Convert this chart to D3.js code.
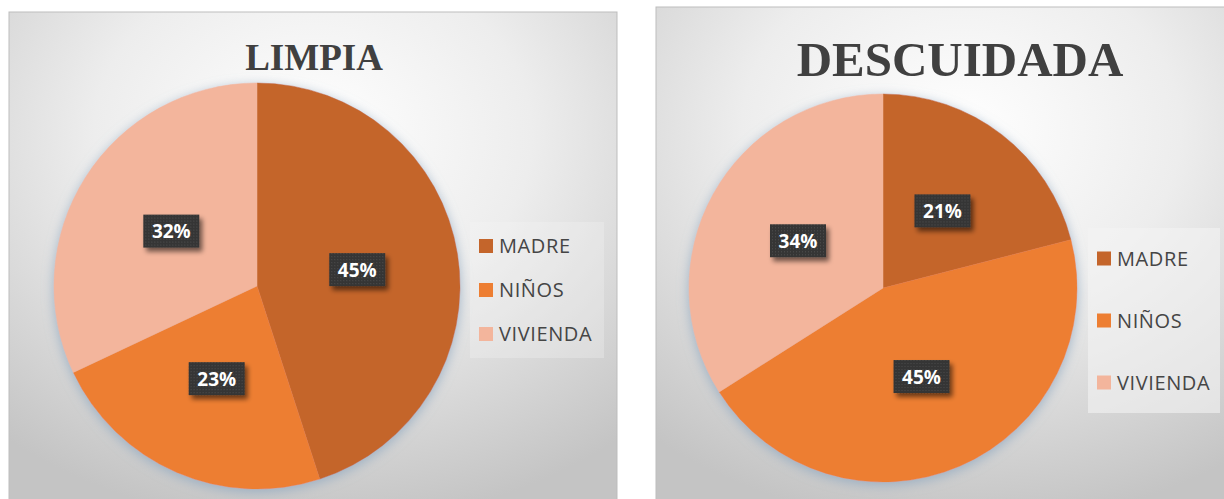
<!DOCTYPE html>
<html>
<head>
<meta charset="utf-8">
<script src="https://cdn.jsdelivr.net/npm/d3@7"></script>
<style>
  body { margin: 0; background: #fff; }
  svg { display: block; }
</style>
</head>
<body>
<svg id="chart" width="1224" height="499"></svg>
<script>
// data
var categories = ['MADRE', 'NIÑOS', 'VIVIENDA'];
var limpiaValues = [45, 23, 32];
var descuidadaValues = [21, 45, 34];
var titles = ['LIMPIA', 'DESCUIDADA'];
var sliceColors = ['#C4652B', '#ED7E32', '#F3B59C'];

var svg = d3.select('#chart');
var defs = svg.append('defs');

// panel background gradient
var grad = defs.append('radialGradient')
    .attr('id', 'bg')
    .attr('cx', '50%').attr('cy', '25%').attr('r', '80%');
grad.append('stop').attr('offset', '0%').attr('stop-color', '#ffffff');
grad.append('stop').attr('offset', '45%').attr('stop-color', '#ededed');
grad.append('stop').attr('offset', '100%').attr('stop-color', '#c4c4c4');

// soft shadow under the pie
var pieShadow = defs.append('filter').attr('id', 'pieShadow')
    .attr('x', '-20%').attr('y', '-20%').attr('width', '140%').attr('height', '140%');
pieShadow.append('feGaussianBlur').attr('in', 'SourceAlpha').attr('stdDeviation', 6).attr('result', 'b');
pieShadow.append('feOffset').attr('in', 'b').attr('dx', 0).attr('dy', 3).attr('result', 'o');
pieShadow.append('feFlood').attr('flood-color', '#8fa8c0').attr('flood-opacity', 0.8);
pieShadow.append('feComposite').attr('in2', 'o').attr('operator', 'in').attr('result', 's');
var m1 = pieShadow.append('feMerge');
m1.append('feMergeNode').attr('in', 's');
m1.append('feMergeNode').attr('in', 'SourceGraphic');

// shadow for the label boxes
var boxShadow = defs.append('filter').attr('id', 'boxShadow')
    .attr('x', '-30%').attr('y', '-30%').attr('width', '170%').attr('height', '180%');
boxShadow.append('feGaussianBlur').attr('in', 'SourceAlpha').attr('stdDeviation', 2.5).attr('result', 'b');
boxShadow.append('feOffset').attr('in', 'b').attr('dx', 3).attr('dy', 4).attr('result', 'o');
boxShadow.append('feComponentTransfer').attr('in', 'o').attr('result', 's')
    .append('feFuncA').attr('type', 'linear').attr('slope', 0.55);
var m2 = boxShadow.append('feMerge');
m2.append('feMergeNode').attr('in', 's');
m2.append('feMergeNode').attr('in', 'SourceGraphic');

// dotted dark texture of the labels
var pat = defs.append('pattern').attr('id', 'tex')
    .attr('width', 3).attr('height', 3).attr('patternUnits', 'userSpaceOnUse');
pat.append('rect').attr('width', 3).attr('height', 3).attr('fill', '#363636');
pat.append('rect').attr('x', 1).attr('y', 1).attr('width', 1).attr('height', 1).attr('fill', '#4c4c4c');

var panels = [
    { title: titles[0], values: limpiaValues, x: 9, y: 12, w: 608, h: 490,
      cx: 257, cy: 286, r: 203, titleX: 314, titleY: 70, titleSize: 37,
      legend: { x: 470, y: 222, w: 134, h: 136, step: 44, opacity: 0.3 } },
    { title: titles[1], values: descuidadaValues, x: 656, y: 7, w: 610, h: 495,
      cx: 883, cy: 288, r: 194, titleX: 960, titleY: 76, titleSize: 49,
      legend: { x: 1088, y: 228, w: 132, h: 185, step: 62, opacity: 0.6 } }
];

var pie = d3.pie().sort(null).value(function (d) { return d; });

panels.forEach(function (p) {
    var g = svg.append('g');

    g.append('rect')
        .attr('x', p.x).attr('y', p.y)
        .attr('width', p.w).attr('height', p.h)
        .attr('fill', 'url(#bg)')
        .attr('stroke', '#bdbdbd')
        .attr('stroke-width', 1);

    g.append('text')
        .attr('x', p.titleX)
        .attr('y', p.titleY)
        .attr('text-anchor', 'middle')
        .style('font-family', '"Liberation Serif", "Times New Roman", serif')
        .style('font-weight', 'bold')
        .style('font-size', p.titleSize + 'px')
        .style('fill', '#404040')
        .text(p.title);

    var arc = d3.arc().innerRadius(0).outerRadius(p.r);
    var labelArc = d3.arc().innerRadius(p.r * 0.5).outerRadius(p.r * 0.5);
    var arcs = pie(p.values);

    var pg = g.append('g')
        .attr('transform', 'translate(' + [p.cx, p.cy] + ')');

    pg.append('g')
        .attr('filter', 'url(#pieShadow)')
        .selectAll('path')
        .data(arcs)
        .enter()
        .append('path')
        .attr('d', arc)
        .attr('fill', function (d, i) { return sliceColors[i]; })
        .attr('stroke', function (d, i) { return sliceColors[i]; })
        .attr('stroke-width', 0.5);

    var labels = pg.selectAll('.lbl')
        .data(arcs)
        .enter()
        .append('g')
        .attr('class', 'lbl')
        .attr('transform', function (d) { return 'translate(' + labelArc.centroid(d) + ')'; });

    labels.append('rect')
        .attr('x', -28).attr('y', -17)
        .attr('width', 56).attr('height', 33)
        .attr('fill', 'url(#tex)')
        .attr('filter', 'url(#boxShadow)');

    labels.append('text')
        .attr('text-anchor', 'middle')
        .attr('dy', '0.36em')
        .style('font-family', '"Open Sans", "Noto Sans", sans-serif')
        .style('font-weight', 'bold')
        .style('font-size', '19px')
        .style('fill', '#ffffff')
        .text(function (d) { return d.data + '%'; });

    // legend
    var L = p.legend;
    g.append('rect')
        .attr('x', L.x).attr('y', L.y)
        .attr('width', L.w).attr('height', L.h)
        .attr('fill', '#f4f4f4')
        .attr('opacity', L.opacity);

    var items = g.selectAll('.leg')
        .data(categories)
        .enter()
        .append('g')
        .attr('class', 'leg')
        .attr('transform', function (d, i) {
            return 'translate(' + [L.x + 9, L.y + (L.h - L.step * 2) / 2 + i * L.step] + ')';
        });

    items.append('rect')
        .attr('x', 0).attr('y', -7)
        .attr('width', 14).attr('height', 14)
        .attr('fill', function (d, i) { return sliceColors[i]; });

    items.append('text')
        .attr('x', 20)
        .attr('dy', '0.36em')
        .style('font-family', '"Open Sans", "Noto Sans", sans-serif')
        .style('font-size', '20px')
        .style('letter-spacing', '0.6px')
        .style('fill', '#454545')
        .text(function (d) { return d; });
});
</script>
</body>
</html>
